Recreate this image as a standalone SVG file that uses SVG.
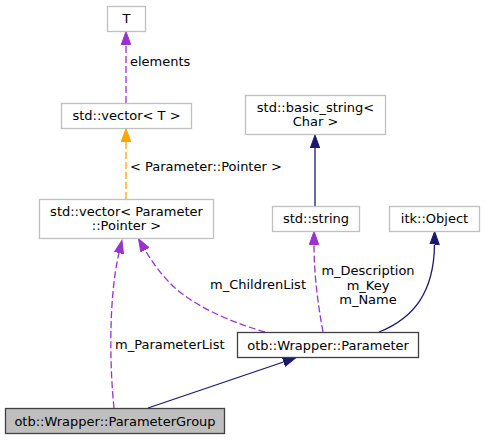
<svg xmlns="http://www.w3.org/2000/svg" width="484" height="440" viewBox="0 0 484 440">
<style>
text{font-family:"DejaVu Sans","Liberation Sans",sans-serif;font-size:13px;fill:#000}
.c{text-anchor:middle}
.nb{fill:#fff;stroke:#bfbfbf;stroke-width:1.3}
.nd{fill:#fff;stroke:#404040;stroke-width:1.3}
.cur{fill:#bfbfbf;stroke:#404040;stroke-width:1.3}
.e{fill:none;stroke-width:1.3}
.pu{stroke:#9a32cd;stroke-dasharray:7,3}
.or{stroke:#ffa500;stroke-dasharray:7,3}
.nv{stroke:#191970}
</style>
<defs>
<marker id="ap" markerUnits="userSpaceOnUse" markerWidth="14" markerHeight="11" refX="0" refY="5" orient="auto"><path d="M0,0.3 L13,5 L0,9.7 z" fill="#9a32cd" stroke="#9a32cd" stroke-width="1"/></marker>
<marker id="ao" markerUnits="userSpaceOnUse" markerWidth="14" markerHeight="11" refX="0" refY="5" orient="auto"><path d="M0,0.3 L13,5 L0,9.7 z" fill="#ffa500" stroke="#ffa500" stroke-width="1"/></marker>
<marker id="an" markerUnits="userSpaceOnUse" markerWidth="14" markerHeight="11" refX="0" refY="5" orient="auto"><path d="M0,0.3 L13,5 L0,9.7 z" fill="#191970" stroke="#191970" stroke-width="1"/></marker>
</defs>
<rect width="484" height="440" fill="#fff"/>
<g id="edges">
<path class="e pu" d="M126,103 L126,44.5" marker-end="url(#ap)"/>
<text x="130" y="66">elements</text>
<path class="e or" d="M126,199 L126,141.5" marker-end="url(#ao)"/>
<text x="130" y="171">&lt; Parameter::Pointer &gt;</text>
<path class="e nv" d="M315,206 L315,148" marker-end="url(#an)"/>
<path class="e pu" d="M114,408 C110,370 108,300 119,253" marker-end="url(#ap)"/>
<text x="115" y="349">m_ParameterList</text>
<path class="e pu" d="M265,332 C240,325 200,310 175,288 C163,277 152,262 145,250" marker-end="url(#ap)"/>
<text x="210" y="289">m_ChildrenList</text>
<path class="e pu" d="M323,332 C318,305 314,275 314,244.5" marker-end="url(#ap)"/>
<text class="c" x="368" y="275">m_Description</text>
<text class="c" x="368" y="289.5">m_Key</text>
<text class="c" x="368" y="304">m_Name</text>
<path class="e nv" d="M379,332 C414,318 434,292 434.5,244.5" marker-end="url(#an)"/>
<path class="e nv" d="M148,408 L283.5,362" marker-end="url(#an)"/>
</g>
<g id="node-T"><rect class="nb" x="107.5" y="6.5" width="38" height="25"/><text class="c" x="126.5" y="23">T</text></g>
<g id="node-vectorT"><rect class="nb" x="61.5" y="103.5" width="130" height="25"/><text class="c" x="126.5" y="120">std::vector&lt; T &gt;</text></g>
<g id="node-vectorParam"><rect class="nb" x="39.5" y="199.5" width="174" height="39"/><text class="c" x="126.5" y="215.5">std::vector&lt; Parameter</text><text class="c" x="126.5" y="229.5">::Pointer &gt;</text></g>
<g id="node-basicstring"><rect class="nb" x="245.5" y="95.5" width="140" height="39"/><text class="c" x="315.5" y="111.5">std::basic_string&lt;</text><text class="c" x="315.5" y="125.5">Char &gt;</text></g>
<g id="node-string"><rect class="nb" x="272.5" y="206.5" width="87" height="25"/><text class="c" x="316" y="223">std::string</text></g>
<g id="node-itkObject"><rect class="nb" x="389.5" y="206.5" width="90" height="25"/><text class="c" x="434.5" y="223">itk::Object</text></g>
<g id="node-Parameter"><rect class="nd" x="237.5" y="332.5" width="181" height="25"/><text class="c" x="328" y="349.5">otb::Wrapper::Parameter</text></g>
<g id="node-ParameterGroup"><rect class="cur" x="5.5" y="408.5" width="219" height="25"/><text class="c" x="115" y="425.5">otb::Wrapper::ParameterGroup</text></g>
</svg>
